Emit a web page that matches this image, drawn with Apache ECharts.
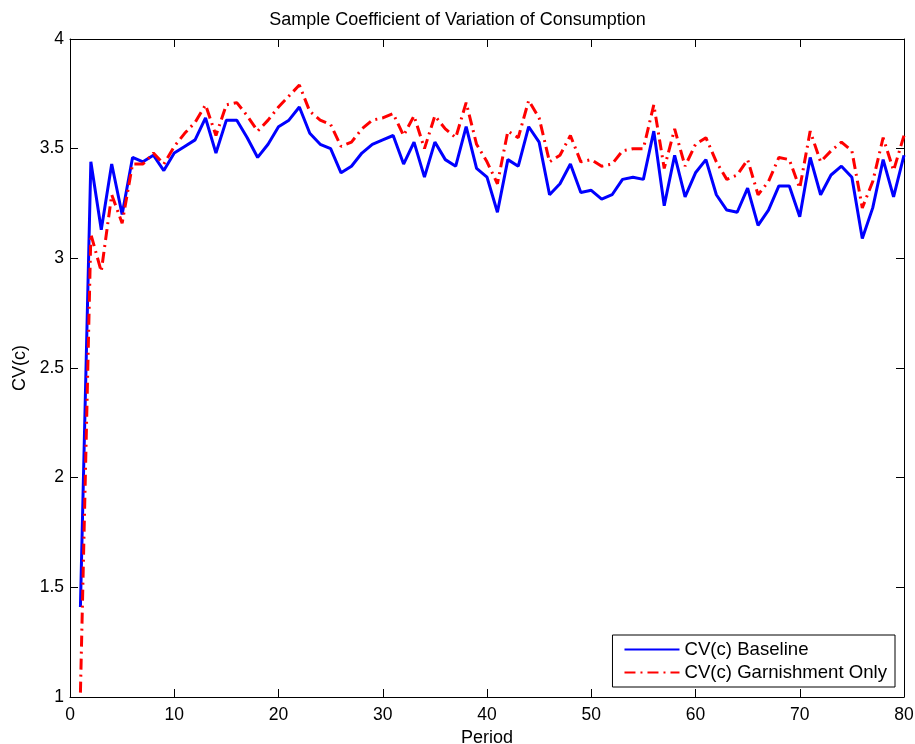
<!DOCTYPE html>
<html>
<head>
<meta charset="utf-8">
<title>CV of Consumption</title>
<script src="https://cdn.jsdelivr.net/npm/echarts@6/dist/echarts.min.js"></script>
<style>
  html, body { margin: 0; padding: 0; background: #fff; }
  #chart { width: 915px; height: 744px; }
</style>
</head>
<body>
<div id="chart"></div>
<script>
// periods 1..80
const periods = Array.from({ length: 80 }, (_, i) => i + 1);

const baseline = [
  1.41, 3.44, 3.13, 3.43, 3.20, 3.46, 3.44, 3.47, 3.40, 3.48,
  3.51, 3.54, 3.64, 3.48, 3.63, 3.63, 3.55, 3.46, 3.52, 3.60,
  3.63, 3.69, 3.57, 3.52, 3.50, 3.39, 3.42, 3.48, 3.52, 3.54,
  3.56, 3.43, 3.53, 3.37, 3.53, 3.45, 3.42, 3.60, 3.41, 3.37,
  3.21, 3.45, 3.42, 3.60, 3.53, 3.29, 3.34, 3.43, 3.30, 3.31,
  3.27, 3.29, 3.36, 3.37, 3.36, 3.58, 3.24, 3.47, 3.28, 3.39,
  3.45, 3.29, 3.22, 3.21, 3.32, 3.15, 3.22, 3.33, 3.33, 3.19,
  3.46, 3.29, 3.38, 3.42, 3.37, 3.09, 3.23, 3.45, 3.28, 3.47
];

const garnish = [
  1.02, 3.11, 2.94, 3.29, 3.16, 3.43, 3.43, 3.48, 3.43, 3.51,
  3.57, 3.62, 3.70, 3.56, 3.70, 3.71, 3.65, 3.58, 3.63, 3.69,
  3.74, 3.79, 3.67, 3.63, 3.61, 3.51, 3.53, 3.59, 3.63, 3.64,
  3.66, 3.56, 3.65, 3.50, 3.65, 3.59, 3.55, 3.71, 3.52, 3.44,
  3.34, 3.58, 3.55, 3.72, 3.64, 3.44, 3.47, 3.56, 3.44, 3.45,
  3.42, 3.43, 3.49, 3.50, 3.50, 3.70, 3.41, 3.59, 3.42, 3.52,
  3.55, 3.44, 3.36, 3.38, 3.45, 3.29, 3.35, 3.46, 3.45, 3.32,
  3.58, 3.44, 3.49, 3.53, 3.49, 3.23, 3.35, 3.55, 3.40, 3.56
];

const seriesNames = ['CV(c) Baseline', 'CV(c) Garnishment Only'];

const FONT = 'Liberation Sans, Arial, Helvetica, sans-serif';

const pairs = ys => periods.map((p, i) => [p, ys[i]]);

const chart = echarts.init(document.getElementById('chart'));

const axisCommon = {
  axisLine: { show: true, onZero: false, lineStyle: { color: '#000', width: 1 } },
  axisTick: { show: true, inside: true, length: 8, lineStyle: { color: '#000' } },
  splitLine: { show: false }
};

chart.setOption({
  backgroundColor: '#fff',
  animation: false,
  title: {
    text: 'Sample Coefficient of Variation of Consumption',
    left: 'center',
    top: 6,
    textStyle: { fontFamily: FONT, fontSize: 18, fontWeight: 'normal', color: '#000' }
  },
  grid: { left: 70, right: 11, top: 39, bottom: 47, containLabel: false, outerBoundsMode: 'none' },
  legend: {
    orient: 'vertical',
    right: 20,
    top: 635,
    data: seriesNames,
    itemWidth: 55,
    itemHeight: 18,
    itemGap: 4,
    padding: [5, 8, 5, 11],
    borderColor: '#000',
    borderWidth: 1,
    borderRadius: 0,
    backgroundColor: '#fff',
    itemStyle: { opacity: 0 },
    textStyle: { fontFamily: FONT, fontSize: 18.6, color: '#000' }
  },
  xAxis: [
    Object.assign({
      type: 'value',
      min: 0, max: 80, interval: 10,
      name: 'Period',
      nameLocation: 'middle',
      nameGap: 27,
      nameTextStyle: { fontFamily: FONT, fontSize: 18, color: '#000' },
      axisLabel: { fontFamily: FONT, fontSize: 17.5, color: '#000', margin: 9 }
    }, axisCommon),
    Object.assign({
      type: 'value', position: 'top',
      min: 0, max: 80, interval: 10,
      axisLabel: { show: false }
    }, axisCommon)
  ],
  yAxis: [
    Object.assign({
      type: 'value',
      min: 1, max: 4, interval: 0.5,
      name: 'CV(c)',
      nameLocation: 'middle',
      nameGap: 40,
      nameTextStyle: { fontFamily: FONT, fontSize: 18, color: '#000' },
      axisLabel: { fontFamily: FONT, fontSize: 17.5, color: '#000', margin: 6 }
    }, axisCommon),
    Object.assign({
      type: 'value', position: 'right',
      min: 1, max: 4, interval: 0.5,
      axisLabel: { show: false }
    }, axisCommon)
  ],
  series: [
    {
      name: seriesNames[0],
      type: 'line',
      data: pairs(baseline),
      symbol: 'none',
      lineStyle: { color: '#0000ff', width: 3 },
      itemStyle: { color: '#0000ff' },
      z: 2
    },
    {
      name: seriesNames[1],
      type: 'line',
      data: pairs(garnish),
      symbol: 'none',
      lineStyle: { color: '#ff0000', width: 3, type: [11, 5, 2, 5] },
      itemStyle: { color: '#ff0000' },
      z: 3
    }
  ]
});
</script>
</body>
</html>
